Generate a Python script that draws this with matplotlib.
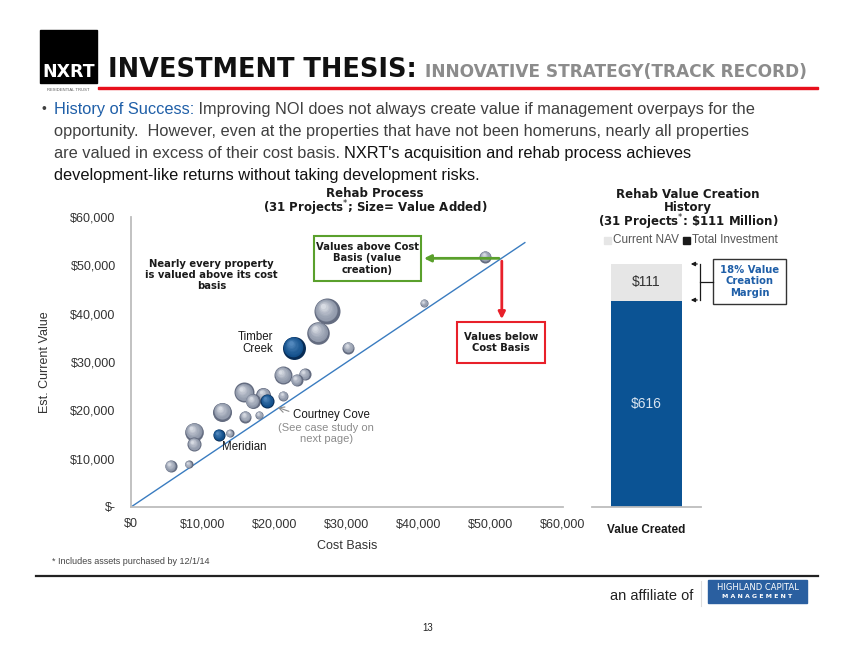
import matplotlib
matplotlib.use("Agg")
import matplotlib.pyplot as plt
from matplotlib.patches import Rectangle, FancyArrowPatch
from matplotlib.transforms import offset_copy
from matplotlib.colors import to_rgb
import numpy as np

# ---- data -------------------------------------------------------------
cost_basis = [49200, 40700, 27200, 26000, 22600, 30200, 21100, 24100, 23000,
              15700, 18400, 16900, 18900, 21100, 12700, 15900, 17800, 8750,
              8750, 12200, 13700, 5500, 8000]
current_value = [51800, 42200, 40600, 36100, 33000, 33000, 27300, 27500, 26300,
                 23700, 23200, 21950, 21950, 23000, 19700, 18700, 19050, 15600,
                 13000, 14900, 15250, 8500, 8800]
value_added = [3.1, 1.4, 14.4, 10.8, 11.2, 3.1, 6.9, 3.1, 3.1, 8.5, 4.8, 4.8,
               4.2, 2.1, 7.7, 3.1, 1.4, 7.4, 4.2, 3.1, 1.4, 3.1, 1.4]
featured = [False, False, False, False, True, False, False, False, False,
            False, False, False, True, False, False, False, False, False,
            False, True, False, False, False]

x_ticks = [0, 10000, 20000, 30000, 40000, 50000, 60000]
x_labels = ["$0", "$10,000", "$20,000", "$30,000", "$40,000", "$50,000", "$60,000"]
y_ticks = [0, 10000, 20000, 30000, 40000, 50000, 60000]
y_labels = ["$-", "$10,000", "$20,000", "$30,000", "$40,000", "$50,000", "$60,000"]
line_end = 54700

bar_category = ["Value Created"]
total_investment = [616]
current_nav_gain = [111]

W, H = 854, 660
BLUE = "#0b5394"
TXT_BLUE = "#1f5fa8"

plt.rcParams["font.family"] = ["Liberation Sans", "DejaVu Sans"]

fig = plt.figure(figsize=(W / 100, H / 100), dpi=100)


def fx(x):
    return x / W


def fy(y):
    return 1 - y / H


def width_px(t):
    return t.get_window_extent(fig.canvas.get_renderer()).width


def fit(t, target):
    # shrink/grow a text so it spans the same width as in the slide
    t.set_fontsize(t.get_fontsize() * target / width_px(t))
    return t


# ---- header -----------------------------------------------------------
fig.patches.append(Rectangle((fx(40), fy(83)), fx(97) - fx(40), fy(30) - fy(83),
                             transform=fig.transFigure, color="black"))
fig.text(fx(68.5), fy(72), "NXRT", color="white", fontsize=12.5, fontweight="bold",
         ha="center", va="center", family="DejaVu Sans")
fig.text(fx(68.5), fy(90), "RESIDENTIAL TRUST", color="#555555", fontsize=3,
         ha="center", va="center")
fig.patches.append(Rectangle((fx(98), fy(89)), fx(818) - fx(98), 2.2 / H,
                             transform=fig.transFigure, color="#e8101c"))
fig.canvas.draw()
t = fig.text(fx(108), fy(77), "INVESTMENT THESIS:", fontsize=20, fontweight="bold",
             family="DejaVu Sans", color="#111111", va="baseline")
fit(t, 307)
t = fig.text(fx(425), fy(77), "INNOVATIVE STRATEGY(TRACK RECORD)", fontsize=12,
             fontweight="bold", family="DejaVu Sans", color="#8c8c8c", va="baseline")
fit(t, 381)

# ---- bullet text ------------------------------------------------------
probe = fig.text(0, 0, "opportunity.  However, even at the properties that have not been "
                 "homeruns, nearly all properties", fontsize=12)
FS = 12 * 697 / width_px(probe)
probe.remove()


def run_line(x, y, parts):
    for txt, col in parts:
        tt = fig.text(fx(x), fy(y), txt, fontsize=FS, color=col, va="baseline")
        x = tt.get_window_extent(fig.canvas.get_renderer()).x1


fig.text(fx(42), fy(113), "\u2022", fontsize=10, color="#404040", va="baseline")
run_line(54, 114, [("History of Success:", TXT_BLUE),
                   (" Improving NOI does not always create value if management overpays for the",
                    "#404040")])
run_line(54, 136, [("opportunity.  However, even at the properties that have not been homeruns, "
                    "nearly all properties", "#404040")])
run_line(54, 158, [("are valued in excess of their cost basis. ", "#404040"),
                   ("NXRT's acquisition and rehab process achieves", "#111111")])
run_line(54, 180, [("development-like returns without taking development risks.", "#111111")])

# ---- bubble chart -----------------------------------------------------
ax = fig.add_axes([fx(131), fy(507), fx(563) - fx(131), fy(217) - fy(507)])
ax.set_xlim(0, 60000)
ax.set_ylim(0, 60000)
for s in ["top", "right"]:
    ax.spines[s].set_visible(False)
ax.spines["left"].set_color("#bdbdbd")
ax.spines["bottom"].set_color("#bdbdbd")
ax.spines["left"].set_linewidth(1.3)
ax.spines["bottom"].set_linewidth(1.3)
ax.set_xticks(x_ticks)
ax.set_xticklabels(x_labels)
ax.set_yticks(y_ticks)
ax.set_yticklabels(y_labels)
ax.tick_params(length=0, labelsize=9, colors="#333333")
ax.tick_params(axis="y", pad=11)
ax.tick_params(axis="x", pad=8)
ax.set_xlabel("Cost Basis", fontsize=9, color="#333333", labelpad=7)
ax.set_ylabel("Est. Current Value", fontsize=9, color="#333333", labelpad=14)

ax.plot([0, line_end], [0, line_end], color="#3a7cc0", lw=1, zorder=1)


def blend(c1, c2, f):
    a, b = np.array(to_rgb(c1)), np.array(to_rgb(c2))
    return tuple(a + (b - a) * f)


K = 24.4
n = 9
for xv, yv, va, ft in zip(cost_basis, current_value, value_added, featured):
    s = va * K
    rad = np.sqrt(s) / 2
    if ft:
        edge, body, light = "#082c55", "#124f8a", "#5f94c8"
    else:
        edge, body, light = "#646c80", "#8d96a8", "#e6e9ef"
    ax.scatter([xv], [yv], s=s, color=edge, zorder=3, lw=0)
    for i in range(1, n):
        f = i / n
        frac = 1 - f * 0.9
        col = blend(body, light, f ** 1.6) if i > 1 else body
        tr = offset_copy(ax.transData, fig=fig, x=-rad * (1 - frac) * 0.35,
                         y=rad * (1 - frac) * 0.45, units="points")
        ax.scatter([xv], [yv], s=s * frac ** 2 * (0.9 if i == 1 else 1), color=col,
                   zorder=3, lw=0, transform=tr)

bold = dict(fontweight="bold", family="DejaVu Sans", fontsize=7.2, color="#1a1a1a")
ax.text(11200, 48000, "Nearly every property\nis valued above its cost\nbasis",
        ha="center", va="center", linespacing=1.15, **bold)

# green box and arrow
ax.add_patch(Rectangle((25420, 46790), 14860, 9320, fill=False, ec="#5aa02c", lw=1.5,
                       clip_on=False, zorder=4))
ax.text(32850, 51450, "Values above Cost\nBasis (value\ncreation)", ha="center",
        va="center", linespacing=1.15, **bold)
ax.annotate("", xy=(40300, 51450), xytext=(51500, 51450),
            arrowprops=dict(arrowstyle="-|>", color="#5aa02c", lw=2, mutation_scale=10),
            zorder=5)
# red box and arrow
ax.add_patch(Rectangle((45280, 29810), 12220, 8550, fill=False, ec="#e8202a", lw=1.5,
                       clip_on=False, zorder=4))
ax.text(51390, 34100, "Values below\nCost Basis", ha="center", va="center",
        linespacing=1.15, **bold)
ax.annotate("", xy=(51500, 38300), xytext=(51500, 51450),
            arrowprops=dict(arrowstyle="-|>", color="#e8202a", lw=2, mutation_scale=10),
            zorder=5)

reg = dict(fontsize=8.3, color="#1a1a1a")
ax.text(19800, 33900, "Timber\nCreek", ha="right", va="center", linespacing=1.05, **reg)
ax.text(22500, 19100, "Courtney Cove", ha="left", va="center", **reg)
ax.text(27100, 15200, "(See case study on\nnext page)", ha="center", va="center",
        linespacing=1.05, fontsize=8, color="#8c8c8c")
ax.annotate("", xy=(20000, 20800), xytext=(22300, 19600),
            arrowprops=dict(arrowstyle="->", color="#8c8c8c", lw=0.8))
ax.text(15700, 12500, "Meridian", ha="center", va="center", **reg)

# chart titles
tbold = {**bold, "fontsize": 8.5}
fig.text(fx(375), fy(193), "Rehab Process", ha="center", va="center", **tbold)
fig.text(fx(375), fy(208), "(31 Projects$^{*}$; Size= Value Added)", ha="center",
         va="center", **tbold)

# ---- stacked bar ------------------------------------------------------
ax2 = fig.add_axes([fx(591.7), fy(507), fx(700.7) - fx(591.7), fy(239.2) - fy(507)])
ax2.set_xlim(-0.77, 0.77)
ax2.set_ylim(0, 800)
bx = np.arange(len(bar_category))
ax2.bar(bx, total_investment, width=1.0, color=BLUE, zorder=2)
ax2.bar(bx, current_nav_gain, bottom=total_investment, width=1.0, color="#e6e6e6", zorder=2)
for s in ["top", "right", "left"]:
    ax2.spines[s].set_visible(False)
ax2.spines["bottom"].set_color("#bdbdbd")
ax2.spines["bottom"].set_linewidth(1.3)
ax2.set_yticks([])
ax2.set_xticks(bx)
ax2.set_xticklabels(bar_category, fontweight="bold", fontsize=8.5, color="#1a1a1a")
ax2.tick_params(length=0, pad=12)
for i in bx:
    ax2.text(i, total_investment[i] / 2, f"${total_investment[i]}", ha="center",
             va="center", fontsize=10, color="#d8e4f0")
    ax2.text(i, total_investment[i] + current_nav_gain[i] / 2, f"${current_nav_gain[i]}",
             ha="center", va="center", fontsize=10, color="#333333")

fig.text(fx(688), fy(194), "Rehab Value Creation", ha="center", va="center", **tbold)
fig.text(fx(688), fy(207), "History", ha="center", va="center", **tbold)
fig.text(fx(688), fy(222), "(31 Projects$^{*}$: \\$111 Million)", ha="center",
         va="center", **tbold)

# legend
fig.patches.append(Rectangle((fx(604), fy(244)), 7 / W, 7 / H, transform=fig.transFigure,
                             color="#e6e6e6"))
fig.text(fx(613), fy(240), "Current NAV", fontsize=8.5, color="#555555", va="center")
fig.patches.append(Rectangle((fx(683), fy(244)), 7 / W, 7 / H, transform=fig.transFigure,
                             color="#1a1a1a"))
fig.text(fx(692), fy(240), "Total Investment", fontsize=8.5, color="#555555", va="center")

# bracket
for yy in (264, 300):
    fig.add_artist(FancyArrowPatch((fx(700), fy(yy)), (fx(688), fy(yy)),
                                   transform=fig.transFigure, arrowstyle="-|>",
                                   mutation_scale=6, color="#1a1a1a", lw=0.9))
fig.add_artist(plt.Line2D([fx(700), fx(700)], [fy(264), fy(300)], color="#1a1a1a", lw=0.9))
fig.add_artist(plt.Line2D([fx(700), fx(713)], [fy(282), fy(282)], color="#1a1a1a", lw=0.9))
fig.patches.append(Rectangle((fx(713), fy(304)), fx(786) - fx(713), fy(259) - fy(304),
                             transform=fig.transFigure, fill=False, ec="#333333", lw=1))
fig.text(fx(749.5), fy(281.5), "18% Value\nCreation\nMargin", ha="center", va="center",
         linespacing=1.2, fontweight="bold", family="DejaVu Sans", fontsize=7.2, color=TXT_BLUE)

# ---- footer -----------------------------------------------------------
fig.text(fx(52), fy(561), "* Includes assets purchased by 12/1/14", fontsize=6.5,
         color="#444444", va="center")
fig.add_artist(plt.Line2D([fx(36), fx(818)], [fy(576), fy(576)], color="#222222", lw=1.6))
fig.text(fx(693), fy(596), "an affiliate of", fontsize=10.5, color="#222222", ha="right",
         va="center")
fig.add_artist(plt.Line2D([fx(701), fx(701)], [fy(581), fy(606)], color="#dddddd", lw=0.8))
fig.patches.append(Rectangle((fx(708), fy(603)), fx(807) - fx(708), fy(580) - fy(603),
                             transform=fig.transFigure, color="#2a5fa0"))
fig.text(fx(757.5), fy(587), "HIGHLAND CAPITAL", fontsize=6, color="white", ha="center",
         va="center", family="DejaVu Sans")
fig.text(fx(757.5), fy(597), "M A N A G E M E N T", fontsize=4.5, color="white",
         ha="center", va="center", family="DejaVu Sans", fontweight="bold")
fig.text(fx(428), fy(628), "13", fontsize=7, color="#222222", ha="center", va="center")

fig.savefig("out.png", dpi=100)
